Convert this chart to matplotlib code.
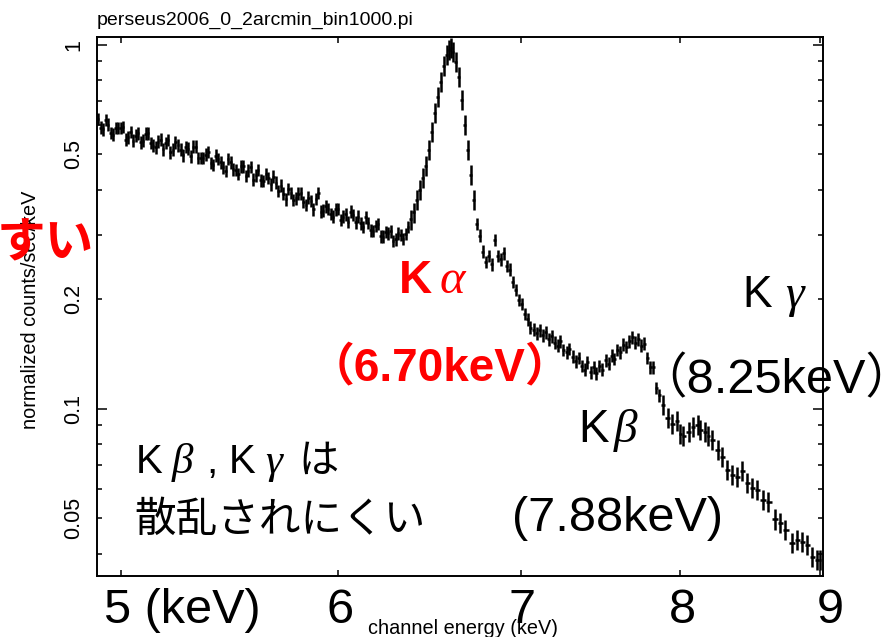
import numpy as np
import matplotlib
matplotlib.use('Agg')
import matplotlib.pyplot as plt
from matplotlib.ticker import FixedLocator, NullLocator, NullFormatter, FuncFormatter

plt.rcParams['font.family'] = ['Liberation Sans', 'Noto Sans CJK JP', 'DejaVu Sans']

# spectrum, split by binning (keV, normalized counts/sec/keV)
e_cont = [4.905, 4.925, 4.946, 4.967, 4.987, 5.008, 5.029, 5.051, 5.072, 5.093,
          5.115, 5.136, 5.158, 5.180, 5.201, 5.223, 5.245, 5.268, 5.290, 5.312,
          5.335, 5.357, 5.380, 5.403, 5.425, 5.448, 5.471, 5.494, 5.518, 5.541,
          5.564, 5.588, 5.611, 5.635, 5.659, 5.683, 5.707, 5.731, 5.755, 5.779,
          5.803, 5.828, 5.852, 5.877, 5.902, 5.926, 5.951, 5.976, 6.001, 6.026,
          6.052, 6.077, 6.103, 6.128, 6.154, 6.180, 6.206, 6.232, 6.258, 6.285,
          6.311, 6.338, 6.364]
c_cont = [0.626, 0.586, 0.603, 0.566, 0.591, 0.595, 0.557, 0.545, 0.571, 0.545,
          0.571, 0.528, 0.542, 0.516, 0.548, 0.515, 0.530, 0.497, 0.518, 0.525,
          0.489, 0.489, 0.508, 0.468, 0.486, 0.461, 0.486, 0.455, 0.442, 0.464,
          0.451, 0.426, 0.453, 0.423, 0.431, 0.434, 0.397, 0.390, 0.402, 0.375,
          0.390, 0.370, 0.380, 0.353, 0.392, 0.350, 0.354, 0.337, 0.354, 0.337,
          0.326, 0.341, 0.337, 0.316, 0.324, 0.308, 0.322, 0.297, 0.303, 0.289,
          0.303, 0.293, 0.316]
# the channels in between (continuum is binned finer than the rest)
e_cont_b = [4.915, 4.936, 4.957, 4.977, 4.998, 5.019, 5.040, 5.062, 5.083, 5.104,
            5.126, 5.147, 5.169, 5.191, 5.212, 5.234, 5.257, 5.279, 5.301, 5.324,
            5.346, 5.369, 5.392, 5.414, 5.437, 5.460, 5.483, 5.506, 5.530, 5.553,
            5.576, 5.600, 5.623, 5.647, 5.671, 5.695, 5.719, 5.743, 5.767, 5.791,
            5.816, 5.840, 5.865, 5.890, 5.914, 5.939, 5.964, 5.989, 6.014, 6.039,
            6.065, 6.090, 6.116, 6.141, 6.167, 6.193, 6.219, 6.245, 6.272, 6.298,
            6.325, 6.351]
c_cont_b = [0.592, 0.621, 0.573, 0.591, 0.591, 0.549, 0.576, 0.563, 0.540, 0.570,
            0.537, 0.523, 0.549, 0.537, 0.507, 0.539, 0.515, 0.524, 0.494, 0.525,
            0.489, 0.499, 0.474, 0.496, 0.476, 0.450, 0.475, 0.453, 0.463, 0.436,
            0.462, 0.438, 0.424, 0.442, 0.414, 0.418, 0.410, 0.376, 0.392, 0.379,
            0.391, 0.363, 0.372, 0.377, 0.348, 0.360, 0.343, 0.353, 0.330, 0.342,
            0.348, 0.325, 0.323, 0.336, 0.309, 0.318, 0.298, 0.306, 0.307, 0.292,
            0.300, 0.302]

e_kalpha = [6.379, 6.395, 6.411, 6.427, 6.443, 6.460, 6.476, 6.492, 6.509, 6.525,
            6.541, 6.558, 6.575, 6.586, 6.596, 6.607, 6.624, 6.641, 6.657, 6.674,
            6.691, 6.708, 6.725]
c_kalpha = [0.331, 0.346, 0.375, 0.400, 0.431, 0.465, 0.515, 0.577, 0.650, 0.720,
            0.791, 0.876, 0.939, 0.969, 0.981, 0.957, 0.898, 0.817, 0.706, 0.603,
            0.515, 0.439, 0.375]

e_shoulder = [6.742, 6.759, 6.776, 6.793, 6.810, 6.827, 6.844, 6.862, 6.879, 6.896,
              6.914, 6.931, 6.949, 6.966, 6.984, 7.001, 7.019, 7.037, 7.054]
c_shoulder = [0.322, 0.299, 0.270, 0.253, 0.263, 0.249, 0.291, 0.263, 0.257, 0.267,
              0.247, 0.241, 0.223, 0.212, 0.199, 0.194, 0.182, 0.176, 0.167]

e_kbeta = [7.072, 7.090, 7.108, 7.126, 7.144, 7.162, 7.180, 7.198, 7.216, 7.234,
           7.252, 7.271, 7.289, 7.308, 7.326, 7.345, 7.363, 7.382, 7.400, 7.419,
           7.438, 7.456, 7.475, 7.494, 7.513, 7.532, 7.551, 7.570, 7.589, 7.608,
           7.627, 7.646, 7.666, 7.685, 7.704, 7.724, 7.743, 7.763, 7.782, 7.802,
           7.822, 7.841, 7.861]
c_kbeta = [0.165, 0.161, 0.164, 0.159, 0.162, 0.155, 0.158, 0.152, 0.149, 0.153,
           0.145, 0.143, 0.146, 0.139, 0.135, 0.138, 0.131, 0.128, 0.134, 0.126,
           0.130, 0.125, 0.131, 0.128, 0.136, 0.133, 0.140, 0.137, 0.145, 0.143,
           0.150, 0.148, 0.153, 0.157, 0.152, 0.155, 0.149, 0.151, 0.138, 0.130,
           0.130, 0.114, 0.109]

e_tail = [7.882, 7.915, 7.948, 7.981, 8.001, 8.022, 8.056, 8.089, 8.117, 8.137,
          8.171, 8.192, 8.219, 8.261, 8.289, 8.324, 8.359, 8.394, 8.429, 8.465,
          8.500, 8.536, 8.579, 8.615, 8.666, 8.703, 8.739, 8.791, 8.828, 8.865,
          8.902, 8.940, 8.977, 8.998]
c_tail = [0.1026, 0.0945, 0.0910, 0.0927, 0.0854, 0.0843, 0.0865, 0.0893, 0.0904, 0.0876,
          0.0865, 0.0843, 0.0822, 0.0772, 0.0738, 0.0680, 0.0659, 0.0650, 0.0676, 0.0626,
          0.0607, 0.0599, 0.0562, 0.0555, 0.0498, 0.0486, 0.0465, 0.0428, 0.0437, 0.0431,
          0.0423, 0.0392, 0.0385, 0.0385]

# relative 1-sigma error of each group
groups = [(e_cont, c_cont, 0.04), (e_cont_b, c_cont_b, 0.04),
          (e_kalpha, c_kalpha, 0.065), (e_shoulder, c_shoulder, 0.04),
          (e_kbeta, c_kbeta, 0.04), (e_tail, c_tail, 0.065)]
energy = np.concatenate([g[0] for g in groups])
counts = np.concatenate([g[1] for g in groups])
frac = np.concatenate([[g[2]] * len(g[0]) for g in groups])
order = np.argsort(energy)
energy, counts, frac = energy[order], counts[order], frac[order]

# bin half widths from the neighbouring channels
mid = (energy[1:] + energy[:-1]) / 2
left_edge = np.concatenate([[energy[0] - (mid[0] - energy[0])], mid])
right_edge = np.concatenate([mid, [energy[-1] + (energy[-1] - mid[-1])]])
xerr = [energy - left_edge, right_edge - energy]
yerr = counts * frac

W, H = 888, 637
fig = plt.figure(figsize=(W / 100, H / 100), dpi=100)
ax = fig.add_axes([97 / W, 1 - 576 / H, 726 / W, 539 / H])

ax.errorbar(energy, counts, xerr=xerr, yerr=yerr, fmt='none',
            ecolor='black', elinewidth=1.8, capsize=0)

ax.set_xscale('log')
ax.set_yscale('log')
ax.set_xlim(4.9, 9.02)
ax.set_ylim(0.0347, 1.05)

ax.xaxis.set_major_locator(FixedLocator([5, 6, 7, 8, 9]))
ax.xaxis.set_minor_locator(NullLocator())
ax.xaxis.set_major_formatter(NullFormatter())
ax.xaxis.set_minor_formatter(NullFormatter())

ylabels = {0.05: '0.05', 0.1: '0.1', 0.2: '0.2', 0.5: '0.5', 1.0: '1'}
def ylab(v, pos):
    for k, s in ylabels.items():
        if abs(v - k) < 1e-6:
            return s
    return ''
ax.yaxis.set_major_locator(FixedLocator([0.1, 1.0]))
ax.yaxis.set_minor_locator(FixedLocator([0.04, 0.05, 0.06, 0.07, 0.08, 0.09,
                                         0.2, 0.3, 0.4, 0.5, 0.6, 0.7, 0.8, 0.9]))
ax.yaxis.set_major_formatter(FuncFormatter(ylab))
ax.yaxis.set_minor_formatter(FuncFormatter(ylab))

ax.tick_params(which='both', direction='in', top=True, right=True, width=1.1)
ax.tick_params(axis='x', which='major', length=4.5)
ax.tick_params(axis='y', which='major', length=7.5)
ax.tick_params(axis='y', which='minor', length=3.8)
ax.tick_params(axis='y', which='both', labelrotation=90, labelsize=15.5, pad=9)
for lbl in ax.get_yticklabels(which='both'):
    lbl.set_verticalalignment('center')
for sp in ax.spines.values():
    sp.set_linewidth(1.4)


def put(px, py, s, size, color='black', weight='normal', style='normal',
        family=None, ha='left', va='baseline', rotation=0):
    kw = {}
    if family is not None:
        kw['family'] = family
    fig.text(px / W, 1 - py / H, s, fontsize=size, color=color, weight=weight,
             style=style, ha=ha, va=va, rotation=rotation, **kw)


greek = ['Liberation Serif', 'DejaVu Serif']

put(97, 25, 'perseus2006_0_2arcmin_bin1000.pi', 14)
put(30, 310, 'normalized counts/sec/keV', 14.3, ha='center', va='center', rotation=90)
put(463, 634, 'channel energy (keV)', 14.3, ha='center')

# big axis numbers
put(104, 623, '5 (keV)', 35)
put(340, 623, '6', 35, ha='center')
put(522, 623, '7', 35, ha='center')
put(682, 623, '8', 35, ha='center')
put(830, 623, '9', 35, ha='center')

red = '#ff0000'
put(94, 243, 'すい', 35, color=red, weight='bold', ha='right', va='center',
    family=['Noto Sans CJK JP'])
put(399, 293, 'K', 33, color=red, weight='bold')
put(440, 293, 'α', 35, color=red, style='italic', family=greek)
put(440, 380, '（6.70keV）', 33, color=red, weight='bold', ha='center')

put(742, 307, 'K', 32)
put(785, 307, 'γ', 34, style='italic', family=greek)
put(776, 393, '（8.25keV）', 35, ha='center')

put(578, 442, 'K', 33)
put(614, 442, 'β', 34, style='italic', family=greek)
put(512, 531, '(7.88keV)', 35)

put(136, 473, 'K', 29)
put(172, 473, 'β', 31, style='italic', family=greek)
put(206, 473, ',', 29)
put(229, 473, 'K', 29)
put(265, 473, 'γ', 31, style='italic', family=greek)
put(298, 473, 'は', 29)
put(134, 532, '散乱されにくい', 30)

fig.savefig('out.png', dpi=100)
